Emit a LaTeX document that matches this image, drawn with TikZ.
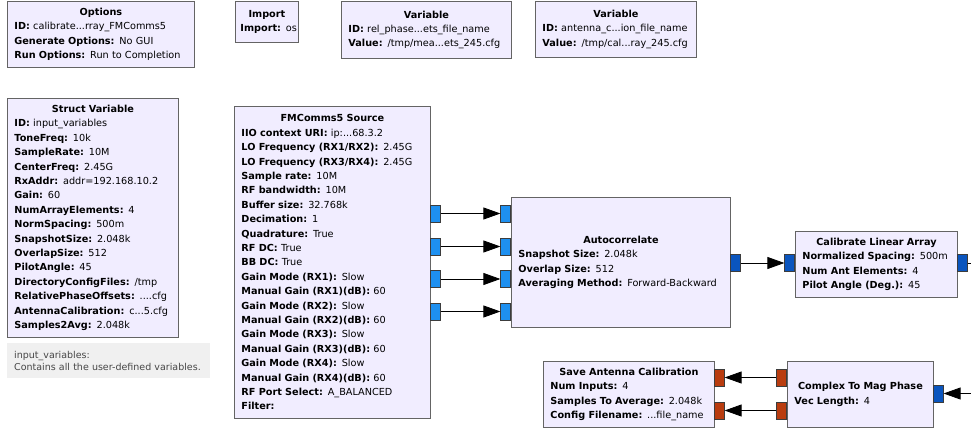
\documentclass[tikz,border=0pt]{standalone}
\usepackage{fontspec}
\setmainfont{DejaVu Sans}
\usetikzlibrary{arrows.meta}

\definecolor{blkfill}{RGB}{241,237,255}
\definecolor{blkline}{RGB}{100,100,100}
\definecolor{portline}{RGB}{60,60,60}
\definecolor{cplxport}{RGB}{30,144,240}
\definecolor{vecport}{RGB}{10,85,190}
\definecolor{fltport}{RGB}{185,60,15}
\definecolor{cmtfill}{RGB}{240,240,240}
\definecolor{cmttext}{RGB}{70,70,70}

\newcommand{\blkfont}{\fontsize{9.7}{14.4}\selectfont}
\newcommand{\blktitle}[1]{\makebox[\hsize]{\textbf{#1}}}
\newcommand{\prm}[2]{\mbox{\textbf{#1:} #2}}

\begin{document}
\begin{tikzpicture}[
  x=1pt, y=-1pt,
  blk/.style={draw=blkline, fill=blkfill, line width=0.9pt, anchor=north west,
    inner xsep=7pt, inner ysep=0pt, align=left, font=\blkfont},
  cmt/.style={fill=cmtfill, anchor=north west, inner xsep=7pt, inner ysep=0pt,
    align=left, text=cmttext, font=\fontsize{9.5}{12}\selectfont},
  port/.style={draw=portline, line width=0.6pt, minimum width=10pt,
    minimum height=17pt, inner sep=0pt},
  cport/.style={port, fill=cplxport},
  vport/.style={port, fill=vecport},
  fport/.style={port, fill=fltport},
  conn/.style={draw=black, line width=0.8pt, -{Triangle[length=17pt,width=12pt]}}
]
  \useasboundingbox (0,0) rectangle (971,430);

  % top row
  \node[blk, text width=173, minimum height=66] (opt) at (7,1)
    {\blktitle{Options}\\
     \prm{ID}{calibrate...rray\_FMComms5}\\
     \prm{Generate Options}{No GUI}\\
     \prm{Run Options}{Run to Completion}};
  \node[blk, inner xsep=5pt, text width=53, minimum height=41] (imp) at (235,1)
    {\blktitle{Import}\\
     \prm{Import}{os}};
  \node[blk, text width=156, minimum height=57] (var1) at (341,1)
    {\blktitle{Variable}\\
     \prm{ID}{rel\_phase...ets\_file\_name}\\
     \prm{Value}{/tmp/mea...ets\_245.cfg}};
  \node[blk, text width=147, minimum height=56] (var2) at (535,1)
    {\blktitle{Variable}\\
     \prm{ID}{antenna\_c...ion\_file\_name}\\
     \prm{Value}{/tmp/cal...ray\_245.cfg}};

  % struct variable and its comment
  \node[blk, text width=157, minimum height=239] (sv) at (7,98)
    {\blktitle{Struct Variable}\\
     \prm{ID}{input\_variables}\\
     \prm{ToneFreq}{10k}\\
     \prm{SampleRate}{10M}\\
     \prm{CenterFreq}{2.45G}\\
     \prm{RxAddr}{addr=192.168.10.2}\\
     \prm{Gain}{60}\\
     \prm{NumArrayElements}{4}\\
     \prm{NormSpacing}{500m}\\
     \prm{SnapshotSize}{2.048k}\\
     \prm{OverlapSize}{512}\\
     \prm{PilotAngle}{45}\\
     \prm{DirectoryConfigFiles}{/tmp}\\
     \prm{RelativePhaseOffsets}{....cfg}\\
     \prm{AntennaCalibration}{c...5.cfg}\\
     \prm{Samples2Avg}{2.048k}};
  \node[cmt, text width=189, minimum height=35] (svc) at (7,343)
    {input\_variables:\\
     Contains all the user-defined variables.};

  % source
  \node[blk, text width=182, minimum height=312] (fm) at (234,106)
    {\blktitle{FMComms5 Source}\\
     \prm{IIO context URI}{ip:...68.3.2}\\
     \prm{LO Frequency (RX1/RX2)}{2.45G}\\
     \prm{LO Frequency (RX3/RX4)}{2.45G}\\
     \prm{Sample rate}{10M}\\
     \prm{RF bandwidth}{10M}\\
     \prm{Buffer size}{32.768k}\\
     \prm{Decimation}{1}\\
     \prm{Quadrature}{True}\\
     \prm{RF DC}{True}\\
     \prm{BB DC}{True}\\
     \prm{Gain Mode (RX1)}{Slow}\\
     \prm{Manual Gain (RX1)(dB)}{60}\\
     \prm{Gain Mode (RX2)}{Slow}\\
     \prm{Manual Gain (RX2)(dB)}{60}\\
     \prm{Gain Mode (RX3)}{Slow}\\
     \prm{Manual Gain (RX3)(dB)}{60}\\
     \prm{Gain Mode (RX4)}{Slow}\\
     \prm{Manual Gain (RX4)(dB)}{60}\\
     \prm{RF Port Select}{A\_BALANCED}\\
     \mbox{\textbf{Filter:}}};

  % processing chain
  \node[blk, text width=205, minimum height=130] (ac) at (511,197)
    {\blktitle{Autocorrelate}\\
     \prm{Snapshot Size}{2.048k}\\
     \prm{Overlap Size}{512}\\
     \prm{Averaging Method}{Forward-Backward}};
  \node[blk, text width=148, minimum height=66] (cal) at (795,231)
    {\blktitle{Calibrate Linear Array}\\
     \prm{Normalized Spacing}{500m}\\
     \prm{Num Ant Elements}{4}\\
     \prm{Pilot Angle (Deg.)}{45}};
  \node[blk, text width=132, minimum height=66] (cmp) at (787,361)
    {\blktitle{Complex To Mag Phase}\\
     \prm{Vec Length}{4}};
  \node[blk, text width=157, minimum height=66] (save) at (543,361)
    {\blktitle{Save Antenna Calibration}\\
     \prm{Num Inputs}{4}\\
     \prm{Samples To Average}{2.048k}\\
     \prm{Config Filename}{...file\_name}};

  % ports
  \node[cport, anchor=west] (fm-o1) at (430,213.5) {};
  \node[cport, anchor=west] (fm-o2) at (430,246.5) {};
  \node[cport, anchor=west] (fm-o3) at (430,279) {};
  \node[cport, anchor=west] (fm-o4) at (430,311.5) {};
  \node[cport, anchor=east] (ac-i1) at (511,213.5) {};
  \node[cport, anchor=east] (ac-i2) at (511,246.5) {};
  \node[cport, anchor=east] (ac-i3) at (511,279) {};
  \node[cport, anchor=east] (ac-i4) at (511,311.5) {};
  \node[vport, anchor=west] (ac-o) at (730,263) {};
  \node[vport, anchor=east] (cal-i) at (795,263) {};
  \node[vport, anchor=west] (cal-o) at (957,263) {};
  \node[vport, anchor=west] (cmp-i) at (933,393.5) {};
  \node[fport, anchor=east] (cmp-o1) at (787,377.5) {};
  \node[fport, anchor=east] (cmp-o2) at (787,410.5) {};
  \node[fport, anchor=west] (save-i1) at (714,377.5) {};
  \node[fport, anchor=west] (save-i2) at (714,410.5) {};

  % loose ends at the right border
  \coordinate (cal-x) at (971,263);
  \coordinate (cmp-x) at (971,393.5);

  % connections
  \draw[conn] (fm-o1.east) -- (ac-i1.west);
  \draw[conn] (fm-o2.east) -- (ac-i2.west);
  \draw[conn] (fm-o3.east) -- (ac-i3.west);
  \draw[conn] (fm-o4.east) -- (ac-i4.west);
  \draw[conn] (ac-o.east) -- (cal-i.west);
  \draw[line width=0.8pt] (cal-o.east) -- (cal-x);
  \draw[conn] (cmp-x) -- (cmp-i.east);
  \draw[conn] (cmp-o1.west) -- (save-i1.east);
  \draw[conn] (cmp-o2.west) -- (save-i2.east);
\end{tikzpicture}
\end{document}
